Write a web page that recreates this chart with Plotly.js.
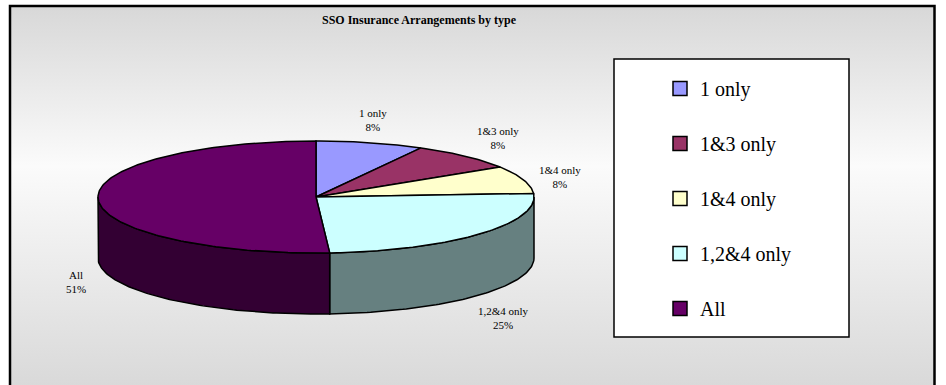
<!DOCTYPE html>
<html>
<head>
<meta charset="utf-8">
<script src="https://cdn.plot.ly/plotly-3.0.1.min.js"></script>
<style>html,body{margin:0;padding:0;background:#fff;}#chart{width:946px;height:385px;}</style>
</head>
<body>
<div id="chart"></div>
<script>
// ---- data ----
const categories = ['1 only', '1&3 only', '1&4 only', '1,2&4 only', 'All'];
const values = [8, 8, 8, 25, 51];
const topColors = ['#9999FF', '#993366', '#FFFFCC', '#CCFFFF', '#660066'];
const sideColors = ['#4D4D80', '#4D1A33', '#808066', '#668080', '#330033'];
const chartTitle = 'SSO Insurance Arrangements by type';

// ---- geometry / style constants (pixel space) ----
const W = 946, H = 385;
const CX = 316, CY = 197, RX = 218, RY = 56, DEPTH = 61;
const labelNudge = [[-5, 2], [10, 0], [6, 5], [-1, 6], [11, 21]];
const FONT = 'Liberation Serif';

function pt(deg, dy, kx, ky) {
  const r = deg * Math.PI / 180;
  return [CX + RX * (kx || 1) * Math.sin(r), CY - RY * (ky || 1) * Math.cos(r) + (dy || 0)];
}
function arc(a, b, dy) {
  const n = Math.max(2, Math.ceil(Math.abs(b - a)));
  const xs = [], ys = [];
  for (let i = 0; i <= n; i++) {
    const p = pt(a + (b - a) * i / n, dy);
    xs.push(p[0]); ys.push(p[1]);
  }
  return [xs, ys];
}

const total = values.reduce((s, v) => s + v, 0);
const starts = [], ends = [];
let acc = 0;
values.forEach(v => { starts.push(acc / total * 360); acc += v; ends.push(acc / total * 360); });

const traces = [];
// background gradient panel
traces.push({
  type: 'scatter', mode: 'none', x: [11, 934, 934, 11, 11], y: [7, 7, 386, 386, 7],
  fill: 'toself', fillcolor: '#e6e6e6',
  fillgradient: { type: 'vertical', start: 7, stop: 386,
    colorscale: [[0, '#d8d8d8'], [0.42, '#fbfbfb'], [1, '#d9d9d9']] },
  hoverinfo: 'skip', showlegend: false
});
// side walls (front half: 90..270 deg)
values.forEach((v, i) => {
  const s = Math.max(starts[i], 90), e = Math.min(ends[i], 270);
  if (s >= e) return;
  const top = arc(s, e, 0), bot = arc(e, s, DEPTH);
  traces.push({
    type: 'scatter', mode: 'lines',
    x: top[0].concat(bot[0], [top[0][0]]), y: top[1].concat(bot[1], [top[1][0]]),
    fill: 'toself', fillcolor: sideColors[i], line: { color: '#000', width: 1.5 },
    hoverinfo: 'skip', showlegend: false
  });
});
// top faces
values.forEach((v, i) => {
  const a = arc(starts[i], ends[i], 0);
  traces.push({
    type: 'scatter', mode: 'lines',
    x: [CX].concat(a[0], [CX]), y: [CY].concat(a[1], [CY]),
    fill: 'toself', fillcolor: topColors[i], line: { color: '#000', width: 1.5 },
    name: categories[i], hoverinfo: 'name', showlegend: false
  });
});
// legend entries
categories.forEach((c, i) => {
  traces.push({
    type: 'scatter', mode: 'markers', x: [null], y: [null], name: c, legendgroup: 'g' + i,
    marker: { symbol: 'square', size: 14, color: topColors[i], line: { color: '#000', width: 1.5 } },
    showlegend: true, hoverinfo: 'skip'
  });
});

// data labels
const annotations = values.map((v, i) => {
  const mid = (starts[i] + ends[i]) / 2;
  const front = Math.cos(mid * Math.PI / 180) < 0;
  const p = pt(mid, front ? DEPTH : 0, 1.15, 1.45);
  return {
    x: p[0] + labelNudge[i][0], y: p[1] + labelNudge[i][1], xref: 'x', yref: 'y',
    text: categories[i] + '<br>' + Math.round(v / total * 100) + '%',
    showarrow: false, align: 'center', xanchor: 'center', yanchor: 'middle',
    font: { family: FONT, size: 11, color: '#000' }
  };
});

const layout = {
  width: W, height: H,
  font: { family: FONT, color: '#000' },
  margin: { l: 0, r: 0, t: 0, b: 0, pad: 0 },
  paper_bgcolor: '#ffffff', plot_bgcolor: 'rgba(0,0,0,0)',
  xaxis: { range: [0, W], visible: false, fixedrange: true },
  yaxis: { range: [H, 0], visible: false, fixedrange: true },
  title: { text: '<b>' + chartTitle + '</b>', font: { family: FONT, size: 12, color: '#000' },
    x: 419 / W, xanchor: 'center', y: 1 - 20 / H, yanchor: 'middle', xref: 'paper', yref: 'container' },
  showlegend: true,
  legend: { x: 660 / W, xanchor: 'left', y: 1 - 69 / H, yanchor: 'top',
    bgcolor: 'rgba(0,0,0,0)', borderwidth: 0, traceorder: 'grouped', tracegroupgap: 26,
    font: { family: FONT, size: 20, color: '#000' } },
  shapes: [
    { type: 'rect', xref: 'x', yref: 'y', x0: 614, x1: 849, y0: 59, y1: 337,
      fillcolor: '#ffffff', line: { color: '#000', width: 1.5 }, layer: 'above' },
    { type: 'rect', xref: 'x', yref: 'y', x0: 10, x1: 934.5, y0: 6, y1: 390,
      line: { color: '#000', width: 2.5 }, layer: 'above' }
  ],
  annotations: annotations
};

Plotly.newPlot('chart', traces, layout, { staticPlot: true, displayModeBar: false });
</script>
</body>
</html>
